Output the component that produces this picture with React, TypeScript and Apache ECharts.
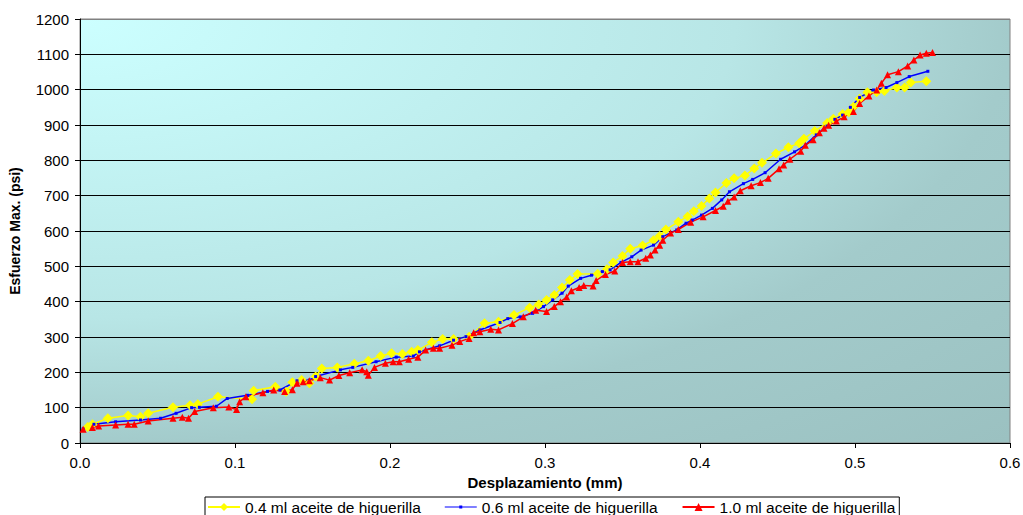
import React, { useEffect, useRef } from "react";
import * as echarts from "echarts";

// Displacement (mm) vs. max stress (psi) for three castor-oil dosages
const series04: [number, number][] = [
  [0.005, 45], [0.008, 53], [0.018, 70], [0.031, 78], [0.039, 74], [0.044, 84], [0.060, 101], [0.071, 107],
  [0.076, 110], [0.089, 131], [0.111, 124], [0.112, 148], [0.126, 159], [0.133, 145], [0.137, 172], [0.143, 178],
  [0.148, 169], [0.152, 188], [0.156, 211], [0.166, 214], [0.177, 224], [0.186, 233], [0.194, 246], [0.201, 254],
  [0.208, 252], [0.214, 258], [0.218, 263], [0.227, 285], [0.234, 294], [0.241, 294], [0.251, 301], [0.261, 339],
  [0.270, 343], [0.280, 362], [0.290, 383], [0.296, 392], [0.301, 405], [0.306, 419], [0.311, 440], [0.316, 461],
  [0.321, 478], [0.334, 479], [0.340, 492], [0.344, 511], [0.350, 529], [0.355, 550], [0.363, 559], [0.370, 574],
  [0.374, 586], [0.378, 604], [0.386, 626], [0.392, 641], [0.396, 656], [0.401, 671], [0.406, 692], [0.410, 709],
  [0.417, 736], [0.422, 749], [0.429, 757], [0.435, 777], [0.440, 793], [0.449, 819], [0.457, 837], [0.464, 848],
  [0.467, 861], [0.474, 883], [0.482, 906], [0.486, 918], [0.492, 931], [0.496, 936], [0.499, 952], [0.503, 974],
  [0.508, 993], [0.514, 993], [0.519, 996], [0.527, 1006], [0.532, 1006], [0.536, 1020], [0.546, 1024],
];

const series06: [number, number][] = [
  [0.002, 40], [0.009, 53], [0.023, 60], [0.039, 65], [0.052, 70], [0.062, 84], [0.072, 100], [0.077, 101],
  [0.088, 104], [0.095, 126], [0.108, 135], [0.121, 146], [0.129, 150], [0.140, 176], [0.148, 178], [0.152, 188],
  [0.168, 207], [0.176, 214], [0.191, 230], [0.204, 243], [0.215, 246], [0.219, 258], [0.232, 275], [0.241, 291],
  [0.249, 301], [0.258, 320], [0.271, 341], [0.276, 352], [0.284, 357], [0.292, 367], [0.299, 386], [0.305, 405],
  [0.311, 424], [0.315, 444], [0.323, 466], [0.330, 475], [0.337, 485], [0.342, 490], [0.349, 511], [0.356, 527],
  [0.362, 546], [0.370, 560], [0.376, 584], [0.385, 603], [0.391, 622], [0.395, 631], [0.401, 645], [0.408, 664],
  [0.414, 688], [0.419, 711], [0.428, 734], [0.434, 746], [0.442, 765], [0.452, 803], [0.461, 824], [0.468, 843],
  [0.475, 872], [0.482, 897], [0.487, 916], [0.492, 928], [0.497, 950], [0.503, 978], [0.512, 999], [0.520, 1006],
  [0.527, 1020], [0.535, 1037], [0.547, 1052],
];

const series10: [number, number][] = [
  [0.002, 39], [0.008, 44], [0.012, 48], [0.023, 51], [0.031, 53], [0.035, 53], [0.044, 62], [0.060, 70],
  [0.066, 73], [0.070, 70], [0.074, 89], [0.086, 100], [0.096, 102], [0.101, 95], [0.103, 117], [0.107, 131],
  [0.118, 142], [0.125, 150], [0.132, 146], [0.137, 151], [0.140, 169], [0.144, 173], [0.148, 176], [0.155, 185],
  [0.161, 178], [0.167, 191], [0.174, 199], [0.182, 207], [0.185, 202], [0.186, 192], [0.190, 214], [0.197, 226],
  [0.202, 230], [0.206, 230], [0.212, 237], [0.218, 243], [0.223, 263], [0.228, 268], [0.232, 268], [0.240, 277],
  [0.245, 287], [0.251, 296], [0.254, 312], [0.258, 315], [0.265, 322], [0.270, 320], [0.279, 338], [0.286, 357],
  [0.294, 376], [0.301, 372], [0.306, 386], [0.310, 400], [0.314, 413], [0.317, 431], [0.322, 440], [0.325, 446],
  [0.331, 444], [0.333, 460], [0.339, 477], [0.345, 487], [0.350, 511], [0.355, 513], [0.360, 513], [0.365, 523],
  [0.368, 532], [0.371, 546], [0.374, 560], [0.376, 574], [0.381, 594], [0.386, 604], [0.394, 625], [0.402, 640],
  [0.410, 658], [0.415, 670], [0.418, 684], [0.422, 696], [0.426, 714], [0.433, 728], [0.439, 737], [0.444, 749],
  [0.451, 776], [0.454, 787], [0.458, 803], [0.465, 826], [0.468, 843], [0.473, 858], [0.477, 878], [0.480, 891],
  [0.483, 899], [0.488, 911], [0.493, 923], [0.499, 938], [0.503, 961], [0.509, 982], [0.514, 999], [0.517, 1018],
  [0.521, 1042], [0.528, 1051], [0.534, 1067], [0.538, 1084], [0.542, 1098], [0.546, 1103], [0.550, 1105],
];

const seriesNames = [
  "0.4 ml aceite de higuerilla",
  "0.6 ml aceite de higuerilla",
  "1.0 ml aceite de higuerilla",
];

const FONT = "Arial, 'Liberation Sans', sans-serif";

// legend glyph for the blue series: a thin line with a tiny square marker
const BLUE_LEGEND_ICON = "path://M0,4.4H32V5.6H0Z M14.5,3.5H17.5V6.5H14.5Z";

export default function App() {
  const ref = useRef<HTMLDivElement>(null);

  useEffect(() => {
    if (!ref.current) return;
    const chart = echarts.init(ref.current, null, { renderer: "svg" });

    const gridLineColors = Array.from({ length: 13 }, (_, i) => (i === 12 ? "#808080" : "#000000"));

    chart.setOption({
      animation: false,
      textStyle: { fontFamily: FONT },
      grid: {
        left: 80,
        right: 13,
        top: 19,
        bottom: 72,
        containLabel: false,
        outerBoundsMode: "none",
        show: true,
        borderColor: "#808080",
        borderWidth: 1,
        backgroundColor: new echarts.graphic.RadialGradient(0, 0, 1.41, [
          { offset: 0, color: "#CCFFFF" },
          { offset: 0.5, color: "#B8E6E6" },
          { offset: 0.71, color: "#A3CBCB" },
          { offset: 1, color: "#9BC1C1" },
        ]),
      },
      legend: {
        left: 205,
        top: 497,
        padding: [2, 4, 2, 2],
        itemGap: 24,
        itemWidth: 32,
        itemHeight: 10,
        borderColor: "#000",
        borderWidth: 1,
        backgroundColor: "#fff",
        textStyle: { fontFamily: FONT, fontSize: 15.5, color: "#000" },
        data: [
          { name: seriesNames[0] },
          { name: seriesNames[1], icon: BLUE_LEGEND_ICON, itemStyle: { color: "#0000FF" } },
          { name: seriesNames[2] },
        ],
      },
      xAxis: {
        type: "value",
        min: 0,
        max: 0.6,
        interval: 0.1,
        name: "Desplazamiento (mm)",
        nameLocation: "middle",
        nameGap: 29,
        nameTextStyle: { fontFamily: FONT, fontSize: 15, fontWeight: "bold", color: "#000" },
        axisLine: { show: true, onZero: false, lineStyle: { color: "#000", width: 1 } },
        axisTick: { show: true, inside: false, length: 5, lineStyle: { color: "#000" } },
        axisLabel: {
          margin: 12,
          fontFamily: FONT,
          fontSize: 15,
          color: "#000",
          formatter: (v: number) => v.toFixed(1),
        },
        splitLine: { show: false },
      },
      yAxis: {
        type: "value",
        min: 0,
        max: 1200,
        interval: 100,
        name: "Esfuerzo Max. (psi)",
        nameLocation: "middle",
        nameGap: 58,
        nameTextStyle: { fontFamily: FONT, fontSize: 14, fontWeight: "bold", color: "#000" },
        axisLine: { show: true, lineStyle: { color: "#000", width: 1 } },
        axisTick: { show: true, inside: false, length: 5, lineStyle: { color: "#000" } },
        axisLabel: {
          margin: 11,
          fontFamily: FONT,
          fontSize: 15,
          color: "#000",
          formatter: (v: number) => String(v),
        },
        splitLine: { show: true, lineStyle: { color: gridLineColors, width: 1 } },
      },
      series: [
        {
          name: seriesNames[0],
          type: "line",
          data: series04,
          symbol: "diamond",
          symbolSize: [10, 10],
          showAllSymbol: true,
          lineStyle: { color: "#FFFF00", width: 1.5 },
          itemStyle: { color: "#FFFF00" },
        },
        {
          name: seriesNames[1],
          type: "line",
          data: series06,
          symbol: "rect",
          symbolSize: 3,
          showAllSymbol: true,
          lineStyle: { color: "#0000FF", width: 1.5 },
          itemStyle: { color: "#0000FF" },
        },
        {
          name: seriesNames[2],
          type: "line",
          data: series10,
          symbol: "triangle",
          symbolSize: 7,
          showAllSymbol: true,
          lineStyle: { color: "#FF0000", width: 1.5 },
          itemStyle: { color: "#FF0000" },
        },
      ],
    });

    return () => chart.dispose();
  }, []);

  return (
    <div
      ref={ref}
      style={{ position: "fixed", left: 0, top: 0, width: 1023, height: 515, background: "#fff" }}
    />
  );
}
